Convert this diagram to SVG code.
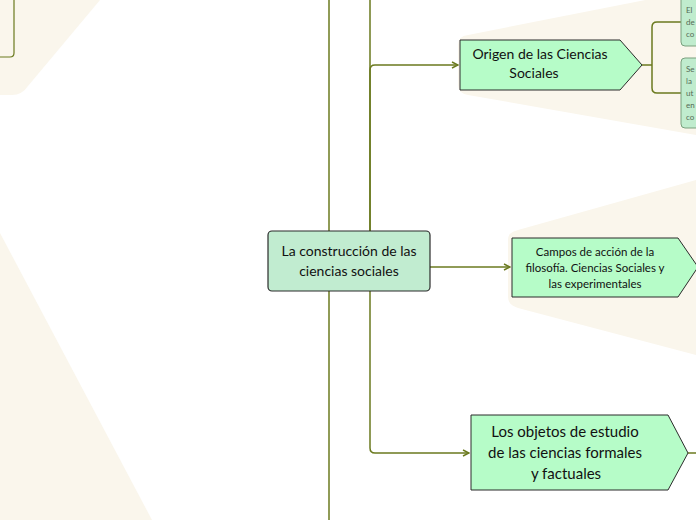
<svg xmlns="http://www.w3.org/2000/svg" width="696" height="520" viewBox="0 0 696 520">
<style>
.bg{fill:#faf6ec}
.c{fill:none;stroke:#6b7a1f;stroke-width:1.5}
.n{fill:#b6fcc8;stroke:#2b2b2b;stroke-width:1}
.t{font-family:Lato,"Liberation Sans",sans-serif;fill:#111;text-anchor:middle}
.s{fill:#c0ecce;stroke:#7aa07e;stroke-width:1}
.st{font-family:Lato,"Liberation Sans",sans-serif;font-size:8px;fill:#556b55}
</style>
<defs><marker id="a" markerWidth="8" markerHeight="8" refX="7" refY="4" orient="auto" markerUnits="userSpaceOnUse"><path d="M1,1 L7,4 L1,7" fill="none" stroke="#6b7a1f" stroke-width="1.5"/></marker></defs>
<path class="bg" d="M0,0 L100,0 L28,86 Q22,95 12,95 L0,95 Z"/>
<path class="bg" d="M0,233 L152,520 L0,520 Z"/>
<path class="bg" d="M458,45 Q458,36 468,35 L696,-10 L696,135 L468,95 Q458,93 458,85 Z"/>
<path class="bg" d="M508,240 Q508,232 518,230 L696,180 L696,355 L518,308 Q508,305 508,297 Z"/>
<path d="M0,57 L10,57 Q14,57 14,53 L14,0" fill="none" stroke="#6b7a1f" stroke-width="1.2"/>
<g id="connectors">
<line class="c" x1="329" y1="0" x2="329" y2="520"/>
<path class="c" d="M370,0 L370,231 M370,291 L370,448 Q370,453 375,453 L469,453" marker-end="url(#a)"/>
<path class="c" d="M370,231 L370,70 Q370,65 375,65 L458,65" marker-end="url(#a)"/>
<path class="c" d="M430,267 L510,267" marker-end="url(#a)"/>
<path class="c" d="M642,65 L652,65 M681,22 L657,22 Q652,22 652,27 L652,88 Q652,93 657,93 L681,93"/>
<path class="c" d="M688,453 L696,453"/>
</g>
<g id="center"><rect x="268" y="231" width="162" height="60" rx="4" fill="#c1ecd0" stroke="#2b2b2b" stroke-width="1.2"/>
<text class="t" font-size="14"><tspan x="349" y="256">La construcción de las</tspan><tspan x="349" y="276">ciencias sociales</tspan></text></g>
<g id="origen"><path class="n" d="M460,40 L620,40 L642,65 L620,90 L460,90 Z"/>
<text class="t" font-size="14"><tspan x="540" y="59">Origen de las Ciencias</tspan><tspan x="534" y="78">Sociales</tspan></text></g>
<g id="campos"><path class="n" d="M512,238 L678,238 L698,267 L678,297 L512,297 Z"/>
<text class="t" font-size="11.5"><tspan x="595" y="256">Campos de acción de la</tspan><tspan x="595" y="272">filosofía. Ciencias Sociales y</tspan><tspan x="595" y="288">las experimentales</tspan></text></g>
<g id="objetos"><path class="n" d="M471,415 L668,415 L688,453 L668,490 L471,490 Z"/>
<text class="t" font-size="15"><tspan x="565" y="437">Los objetos de estudio</tspan><tspan x="565" y="458">de las ciencias formales</tspan><tspan x="566" y="479">y factuales</tspan></text></g>
<g id="n1"><rect class="s" x="681" y="-4" width="30" height="50" rx="4"/>
<text class="st"><tspan x="686" y="13">El</tspan><tspan x="686" y="25">de</tspan><tspan x="686" y="37">co</tspan></text></g>
<g id="n2"><rect class="s" x="681" y="58" width="30" height="70" rx="4"/>
<text class="st"><tspan x="686" y="72">Se</tspan><tspan x="686" y="84">la</tspan><tspan x="686" y="96">ut</tspan><tspan x="686" y="108">en</tspan><tspan x="686" y="120">co</tspan></text></g>
</svg>
